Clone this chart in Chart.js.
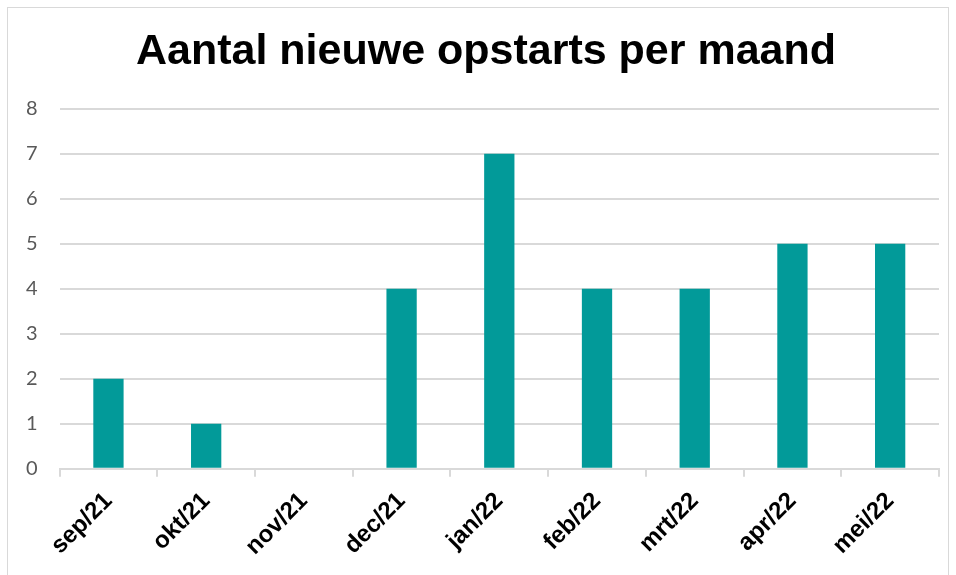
<!DOCTYPE html>
<html>
<head>
<meta charset="utf-8">
<script src="https://cdn.jsdelivr.net/npm/chart.js@4"></script>
<style>
    html, body { margin: 0; padding: 0; background: #fff; }
    #wrap { position: absolute; left: 0; top: 0; width: 956px; height: 575px; }
    #frame { position: absolute; left: 7px; top: 7px; width: 942px; height: 580px; border: 1px solid #d9d9d9; box-sizing: border-box; }
</style>
</head>
<body>
<div id="frame"></div>
<div id="wrap"><canvas id="chart" width="956" height="575"></canvas></div>
<script>
// data
const months = ["sep/21", "okt/21", "nov/21", "dec/21", "jan/22", "feb/22", "mrt/22", "apr/22", "mei/22"];
const starts = [2, 1, 0, 4, 7, 4, 4, 5, 5];
const yTicks = [0, 1, 2, 3, 4, 5, 6, 7, 8];

const barColor = "#029a99";

// the original title sits a bit right of the canvas centre
const nudgeTitle = {
    id: "nudgeTitle",
    afterLayout(chart) {
        if (chart.titleBlock) chart.titleBlock.left += 29;
    },
};

new Chart(document.getElementById("chart"), {
    type: "bar",
    data: {
        labels: months,
        datasets: [{
            label: "Aantal nieuwe opstarts",
            data: starts,
            backgroundColor: barColor,
            borderWidth: 0,
            barPercentage: 0.62,
            categoryPercentage: 0.5,
        }],
    },
    options: {
        responsive: false,
        animation: false,
        layout: { padding: { left: 4, right: 17, top: 0, bottom: 4 } },
        plugins: {
            legend: { display: false },
            tooltip: { enabled: false },
            title: {
                display: true,
                text: "Aantal nieuwe opstarts per maand",
                color: "#000",
                font: { family: "Liberation Sans, Arial", size: 43, weight: "bold" },
                padding: { top: 26, bottom: 31 },
            },
        },
        scales: {
            x: {
                offset: true,
                border: { display: true, color: "#d9d9d9", width: 2 },
                grid: {
                    offset: true,
                    drawOnChartArea: false,
                    drawTicks: true,
                    tickLength: 8,
                    color: "#d9d9d9",
                    lineWidth: 2,
                },
                ticks: {
                    color: "#000",
                    font: { family: "Liberation Sans, Arial", size: 24, weight: "bold" },
                    minRotation: 45,
                    maxRotation: 45,
                    autoSkip: false,
                    padding: 10,
                },
            },
            y: {
                min: 0,
                max: 8,
                afterBuildTicks: axis => { axis.ticks = yTicks.map(v => ({ value: v })); },
                border: { display: false },
                grid: { color: "#d9d9d9", lineWidth: 2, drawTicks: false },
                ticks: {
                    color: "#595959",
                    font: { family: "Lato", size: 20 },
                    padding: 22,
                },
            },
        },
    },
    plugins: [nudgeTitle],
});
</script>
</body>
</html>
